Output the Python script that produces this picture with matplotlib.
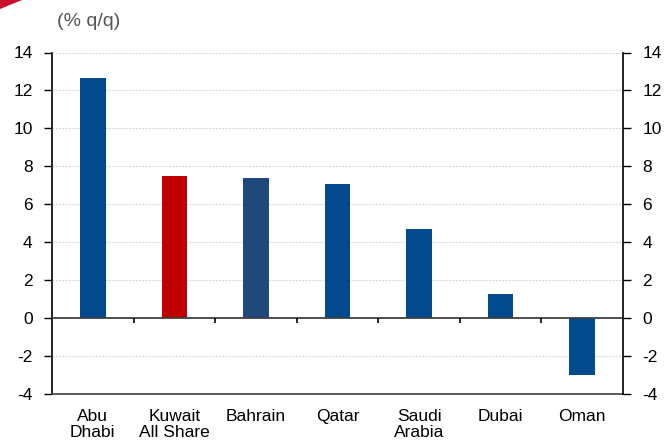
import numpy as np
import matplotlib.pyplot as plt
from matplotlib.patches import Polygon

# dati
paesi = ["Abu\nDhabi", "Kuwait\nAll Share", "Bahrain", "Qatar", "Saudi\nArabia", "Dubai", "Oman"]
valori = [12.65, 7.5, 7.4, 7.05, 4.68, 1.28, -3.0]
colori = ["#004A8D", "#C00000", "#1F497D", "#004A8D", "#004A8D", "#004A8D", "#004A8D"]
yticks = [-4, -2, 0, 2, 4, 6, 8, 10, 12, 14]

plt.rcParams['font.family'] = ['Liberation Sans', 'DejaVu Sans']
plt.rcParams['axes.unicode_minus'] = False

fig = plt.figure(figsize=(6.65, 4.43), dpi=100)
ax = fig.add_axes([52/665, 1-394/443, (623-52)/665, (394-52.5)/443])

x = np.arange(len(paesi))
ax.bar(x, valori, width=0.315, color=colori, zorder=3)

ax.set_xlim(-0.5, len(paesi)-0.5)
ax.set_ylim(-4, 14)
ax.set_yticks(yticks)
ax.set_xticks(x)
ax.set_xticklabels(paesi, fontsize=12.5, linespacing=1.05)
ax.tick_params(axis='x', length=0, pad=11)
ax.tick_params(axis='y', direction='out', length=6, width=1, labelsize=12.5, pad=8)

# griglia tratteggiata
for t in yticks[1:]:
    if t != 0:
        ax.axhline(t, color="#d0d0d0", linestyle=(0, (1.5, 1.5)), linewidth=0.8, zorder=1)
ax.axhline(0, color="#404040", linewidth=1.3, zorder=4)
# tacche tra le categorie sulla linea dello zero
ax.vlines(x[:-1]+0.5, -0.28, 0, color="black", linewidth=1.2, zorder=4)

ax.spines["top"].set_visible(False)
ax.spines["right"].set_visible(False)
ax.spines["left"].set_linewidth(1.2)
ax.spines["bottom"].set_linewidth(1.2)
ax.spines["bottom"].set_color("#404040")

ax2 = ax.twinx()
ax2.set_ylim(-4, 14)
ax2.set_yticks(yticks)
ax2.tick_params(axis='y', direction='out', length=6, width=1, labelsize=12.5, pad=8)
ax2.spines["top"].set_visible(False)
ax2.spines["left"].set_visible(False)
ax2.spines["bottom"].set_visible(False)
ax2.spines["right"].set_linewidth(1.2)

fig.text(57/665, 1-22/443, "(% q/q)", fontsize=14, color="#555555", va="center", ha="left")
fig.patches.append(Polygon([[0, 1], [22/665, 1], [0, 1-9/443]], closed=True,
                           transform=fig.transFigure, facecolor="#C8102E", edgecolor="none"))

fig.savefig("out.png", dpi=100)
